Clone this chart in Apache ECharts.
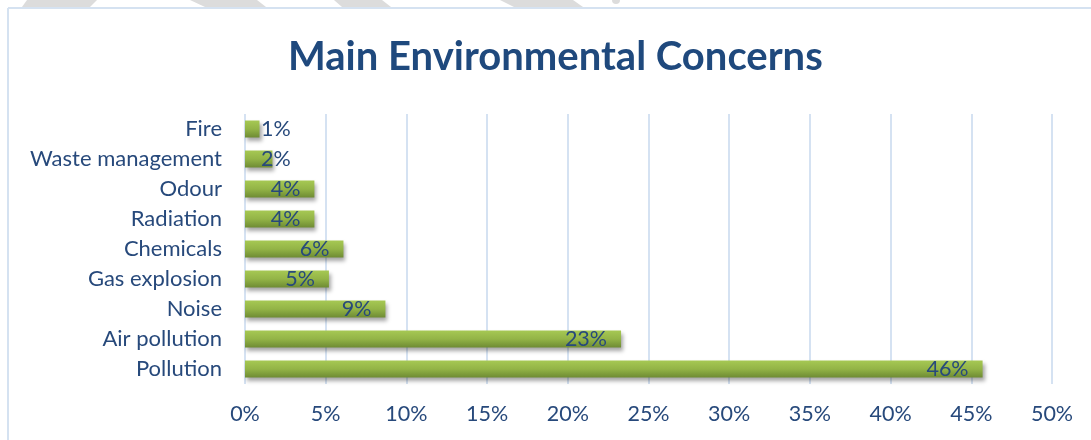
<!DOCTYPE html>
<html>
<head>
<meta charset="utf-8">
<script src="https://cdn.jsdelivr.net/npm/echarts@6/dist/echarts.min.js"></script>
<style>
  html, body { margin: 0; padding: 0; background: #ffffff; }
  #chart { width: 1091px; height: 440px; }
</style>
</head>
<body>
<div id="chart"></div>
<script>
// Survey answers, listed bottom-to-top as the category axis draws them
const categories = ['Pollution', 'Air pollution', 'Noise', 'Gas explosion', 'Chemicals',
                    'Radiation', 'Odour', 'Waste management', 'Fire'];
const shares = [45.7, 23.3, 8.7, 5.2, 6.1, 4.3, 4.3, 1.7, 0.9];   // percent of respondents
const tickLabels = ['0%', '5%', '10%', '15%', '20%', '25%', '30%', '35%', '40%', '45%', '50%'];

const TEXT = '#27497b';
const FONT = 'Lato, "Open Sans", sans-serif';
const LABEL_SIZE = 21.5;

const chart = echarts.init(document.getElementById('chart'), null, { renderer: 'canvas' });

const barFill = new echarts.graphic.LinearGradient(0, 0, 0, 1, [
  { offset: 0, color: '#a6c853' },
  { offset: 0.5, color: '#93b447' },
  { offset: 1, color: '#6e8b33' }
]);

// short bars carry their label just past the axis instead of inside the end
const seriesData = shares.map(v => {
  const item = { value: v };
  if (v < 2.5) {
    item.label = { position: 'insideLeft', distance: 16 };
  }
  return item;
});

const option = {
  backgroundColor: '#ffffff',
  animation: false,
  title: {
    text: 'Main Environmental Concerns',
    left: 283,
    top: 32,
    textStyle: { color: '#1f497d', fontSize: 40, fontWeight: 'bold', fontFamily: FONT }
  },
  grid: { left: 245, right: 39, top: 114, bottom: 56, containLabel: false },
  xAxis: {
    type: 'value',
    min: 0,
    max: 50,
    interval: 5,
    axisLine: { show: false },
    axisTick: { show: false },
    splitLine: { show: true, lineStyle: { color: '#d5e2f2', width: 2 } },
    axisLabel: {
      margin: 19,
      color: TEXT,
      fontSize: LABEL_SIZE,
      fontFamily: FONT,
      formatter: (val) => tickLabels[Math.round(val / 5)]
    }
  },
  yAxis: {
    type: 'category',
    data: categories,
    axisLine: { show: false },
    axisTick: { show: false },
    axisLabel: { margin: 23, color: TEXT, fontSize: 22, fontFamily: FONT }
  },
  series: [{
    type: 'bar',
    data: seriesData,
    barWidth: 17,
    itemStyle: {
      color: barFill,
      shadowColor: 'rgba(0,0,0,0.35)',
      shadowBlur: 4,
      shadowOffsetX: 2,
      shadowOffsetY: 3
    },
    label: {
      show: true,
      position: 'insideRight',
      distance: 14,
      color: TEXT,
      fontSize: LABEL_SIZE,
      fontFamily: FONT,
      formatter: (p) => Math.round(p.value) + '%'
    }
  }],
  graphic: [
    // outer frame of the chart area (top and left edges)
    { type: 'line', shape: { x1: 8, y1: 8, x2: 1091, y2: 8 }, style: { stroke: '#d5e2f1', lineWidth: 2 } },
    { type: 'line', shape: { x1: 8, y1: 8, x2: 8, y2: 440 }, style: { stroke: '#d5e2f1', lineWidth: 2 } },
    // page decoration peeking above the frame
    { type: 'polygon', shape: { points: [[27, 0], [97, 0], [90, 7], [22, 7]] }, style: { fill: '#dcdcdc' } },
    { type: 'polygon', shape: { points: [[190, 0], [257, 0], [266, 7], [205, 7]] }, style: { fill: '#dcdcdc' } },
    { type: 'polygon', shape: { points: [[334, 0], [382, 0], [391, 7], [342, 7]] }, style: { fill: '#dcdcdc' } },
    { type: 'polygon', shape: { points: [[500, 0], [573, 0], [583, 7], [514, 7]] }, style: { fill: '#dcdcdc' } },
    { type: 'circle', shape: { cx: 616, cy: 0, r: 4 }, style: { fill: '#dcdcdc' } }
  ]
};

chart.setOption(option);
</script>
</body>
</html>
